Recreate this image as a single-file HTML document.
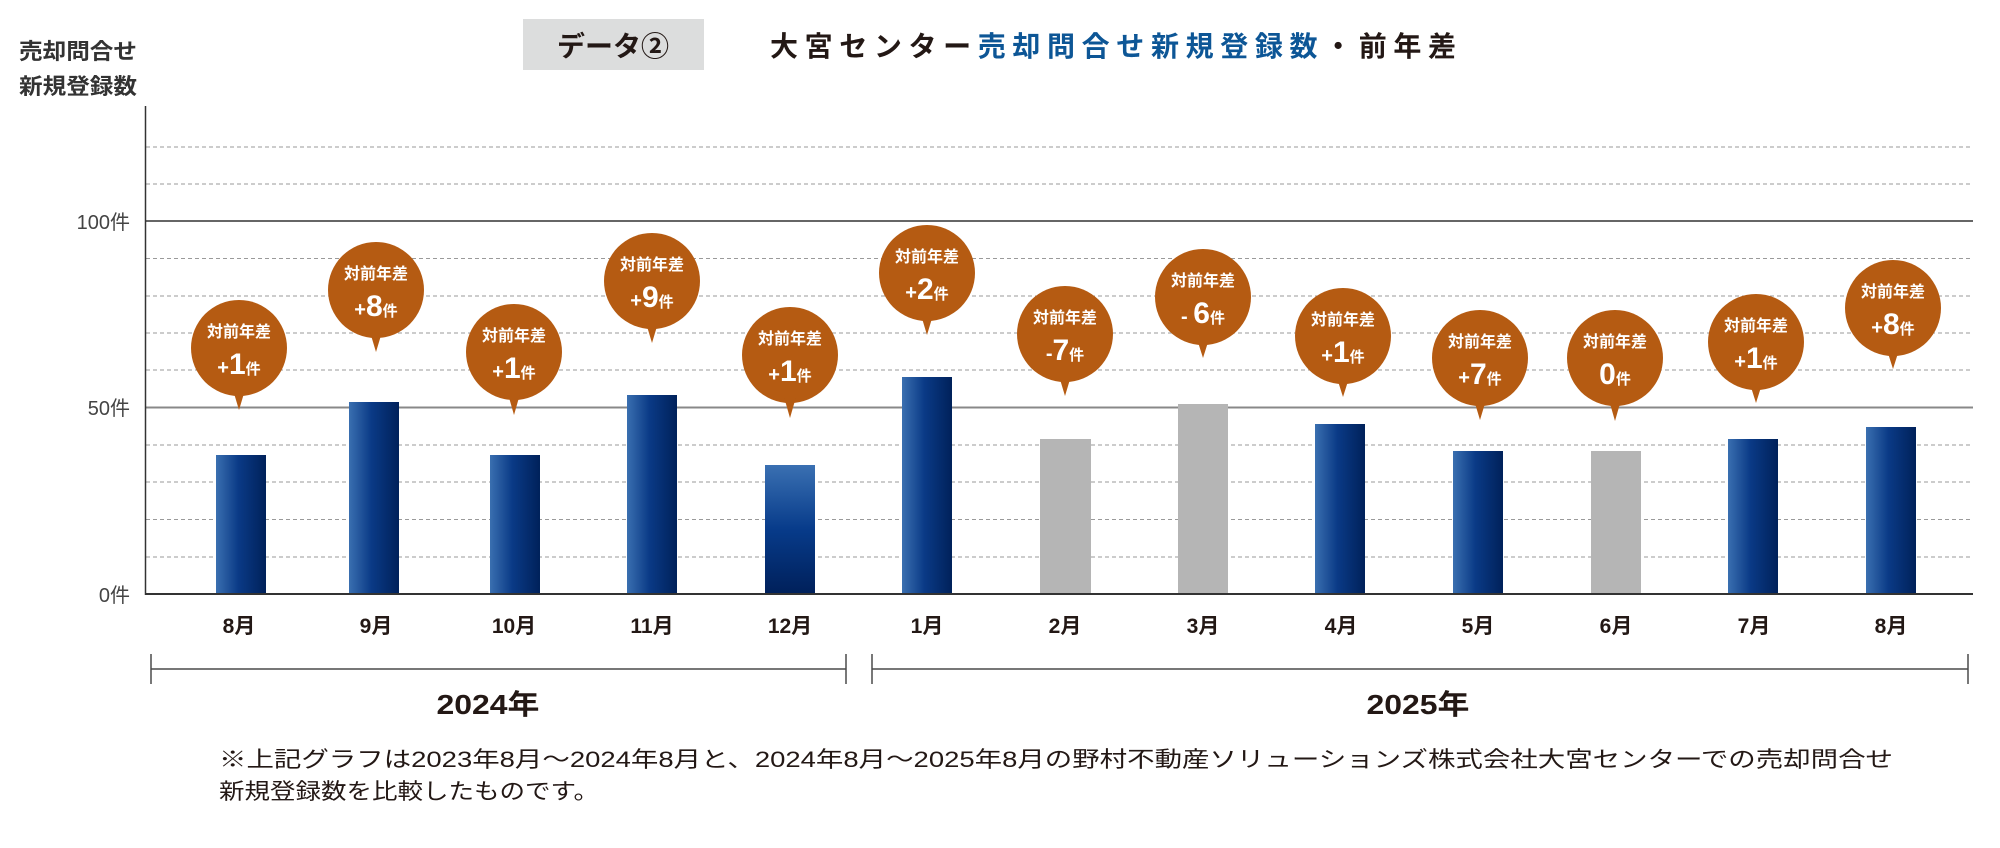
<!DOCTYPE html>
<html><head><meta charset="utf-8"><style>
html,body{margin:0;padding:0;background:#fff;}
svg{display:block;}
text{font-family:"Liberation Sans","Noto Sans CJK JP",sans-serif;}
</style></head><body>
<svg width="2000" height="848" viewBox="0 0 2000 848" xmlns="http://www.w3.org/2000/svg">
<defs>
<linearGradient id="gb" x1="0" y1="0" x2="1" y2="0">
<stop offset="0" stop-color="#3a6fb0"/><stop offset="0.45" stop-color="#0a3a86"/><stop offset="1" stop-color="#00215a"/>
</linearGradient>
<linearGradient id="gv" x1="0" y1="0" x2="0" y2="1">
<stop offset="0" stop-color="#3a70b2"/><stop offset="0.5" stop-color="#073b8a"/><stop offset="1" stop-color="#00205a"/>
</linearGradient>
</defs>
<rect x="523" y="19" width="181" height="51" fill="#dcdddd"/>
<text x="613" y="56" font-size="28" font-weight="bold" fill="#231815" text-anchor="middle">データ②</text>
<text x="770" y="56" font-size="28" font-weight="bold" fill="#231815" textLength="686" lengthAdjust="spacing">大宮センター<tspan fill="#0d5696">売却問合せ新規登録数</tspan>・前年差</text>
<text x="19" y="59" font-size="22" font-weight="bold" fill="#333" textLength="118" lengthAdjust="spacingAndGlyphs">売却問合せ</text>
<text x="19" y="94" font-size="22" font-weight="bold" fill="#333" textLength="118" lengthAdjust="spacingAndGlyphs">新規登録数</text>
<g stroke="#9a9a9a" stroke-width="1" stroke-dasharray="4,3">
<line x1="146" y1="147" x2="1973" y2="147"/>
<line x1="146" y1="184" x2="1973" y2="184"/>
<line x1="146" y1="258.5" x2="1973" y2="258.5"/>
<line x1="146" y1="296" x2="1973" y2="296"/>
<line x1="146" y1="333" x2="1973" y2="333"/>
<line x1="146" y1="370" x2="1973" y2="370"/>
<line x1="146" y1="445" x2="1973" y2="445"/>
<line x1="146" y1="482" x2="1973" y2="482"/>
<line x1="146" y1="519.5" x2="1973" y2="519.5"/>
<line x1="146" y1="557" x2="1973" y2="557"/>
</g>
<line x1="146" y1="221" x2="1973" y2="221" stroke="#333" stroke-width="1.5"/>
<line x1="146" y1="407.5" x2="1973" y2="407.5" stroke="#888" stroke-width="2"/>
<rect x="216" y="455" width="50" height="139" fill="url(#gb)"/>
<rect x="349" y="402" width="50" height="192" fill="url(#gb)"/>
<rect x="490" y="455" width="50" height="139" fill="url(#gb)"/>
<rect x="627" y="395" width="50" height="199" fill="url(#gb)"/>
<rect x="765" y="465" width="50" height="129" fill="url(#gv)"/>
<rect x="902" y="377" width="50" height="217" fill="url(#gb)"/>
<rect x="1040" y="439" width="51" height="155" fill="#b5b5b5"/>
<rect x="1178" y="404" width="50" height="190" fill="#b5b5b5"/>
<rect x="1315" y="424" width="50" height="170" fill="url(#gb)"/>
<rect x="1453" y="451" width="50" height="143" fill="url(#gb)"/>
<rect x="1591" y="451" width="50" height="143" fill="#b5b5b5"/>
<rect x="1728" y="439" width="50" height="155" fill="url(#gb)"/>
<rect x="1866" y="427" width="50" height="167" fill="url(#gb)"/>
<line x1="145.5" y1="106" x2="145.5" y2="595" stroke="#333" stroke-width="1.5"/>
<line x1="145" y1="594" x2="1973" y2="594" stroke="#333" stroke-width="2"/>
<g font-size="20" fill="#444" text-anchor="end">
<text x="130" y="229">100件</text>
<text x="130" y="415">50件</text>
<text x="130" y="602">0件</text>
</g>
<g font-size="21" font-weight="bold" fill="#231815" text-anchor="middle">
<text x="239" y="633">8月</text><text x="376" y="633">9月</text><text x="514" y="633">10月</text>
<text x="652" y="633">11月</text><text x="790" y="633">12月</text><text x="927" y="633">1月</text>
<text x="1065" y="633">2月</text><text x="1203" y="633">3月</text><text x="1341" y="633">4月</text>
<text x="1478" y="633">5月</text><text x="1616" y="633">6月</text><text x="1754" y="633">7月</text>
<text x="1891" y="633">8月</text>
</g>
<g fill="#b55b12">
<circle cx="239" cy="348" r="48"/><path d="M233 390 L239 410 L245 390Z"/>
<circle cx="376" cy="290" r="48"/><path d="M370 332 L376 352 L382 332Z"/>
<circle cx="514" cy="352" r="48"/><path d="M508 394 L514 415 L520 394Z"/>
<circle cx="652" cy="281" r="48"/><path d="M646 323 L652 343 L658 323Z"/>
<circle cx="790" cy="355" r="48"/><path d="M784 397 L790 418 L796 397Z"/>
<circle cx="927" cy="273" r="48"/><path d="M921 315 L927 335 L933 315Z"/>
<circle cx="1065" cy="334" r="48"/><path d="M1059 376 L1065 396 L1071 376Z"/>
<circle cx="1203" cy="297" r="48"/><path d="M1197 339 L1203 358 L1209 339Z"/>
<circle cx="1343" cy="336" r="48"/><path d="M1337 378 L1343 397 L1349 378Z"/>
<circle cx="1480" cy="358" r="48"/><path d="M1474 400 L1480 420 L1486 400Z"/>
<circle cx="1615" cy="358" r="48"/><path d="M1609 400 L1615 421 L1621 400Z"/>
<circle cx="1756" cy="342" r="48"/><path d="M1750 384 L1756 403 L1762 384Z"/>
<circle cx="1893" cy="308" r="48"/><path d="M1887 350 L1893 369 L1899 350Z"/>
</g>
<g fill="#fff" font-weight="bold" text-anchor="middle">
<g font-size="16">
<text x="239" y="337">対前年差</text><text x="376" y="279">対前年差</text><text x="514" y="341">対前年差</text>
<text x="652" y="270">対前年差</text><text x="790" y="344">対前年差</text><text x="927" y="262">対前年差</text>
<text x="1065" y="323">対前年差</text><text x="1203" y="286">対前年差</text><text x="1343" y="325">対前年差</text>
<text x="1480" y="347">対前年差</text><text x="1615" y="347">対前年差</text><text x="1756" y="331">対前年差</text>
<text x="1893" y="297">対前年差</text>
</g>
<g font-size="30">
<text x="239" y="374"><tspan font-size="20">+</tspan>1<tspan font-size="15">件</tspan></text>
<text x="376" y="316"><tspan font-size="20">+</tspan>8<tspan font-size="15">件</tspan></text>
<text x="514" y="378"><tspan font-size="20">+</tspan>1<tspan font-size="15">件</tspan></text>
<text x="652" y="307"><tspan font-size="20">+</tspan>9<tspan font-size="15">件</tspan></text>
<text x="790" y="381"><tspan font-size="20">+</tspan>1<tspan font-size="15">件</tspan></text>
<text x="927" y="299"><tspan font-size="20">+</tspan>2<tspan font-size="15">件</tspan></text>
<text x="1065" y="360"><tspan font-size="20">-</tspan>7<tspan font-size="15">件</tspan></text>
<text x="1203" y="323"><tspan font-size="20">- </tspan>6<tspan font-size="15">件</tspan></text>
<text x="1343" y="362"><tspan font-size="20">+</tspan>1<tspan font-size="15">件</tspan></text>
<text x="1480" y="384"><tspan font-size="20">+</tspan>7<tspan font-size="15">件</tspan></text>
<text x="1615" y="384">0<tspan font-size="15">件</tspan></text>
<text x="1756" y="368"><tspan font-size="20">+</tspan>1<tspan font-size="15">件</tspan></text>
<text x="1893" y="334"><tspan font-size="20">+</tspan>8<tspan font-size="15">件</tspan></text>
</g>
</g>
<g stroke="#4a4a4a" stroke-width="1.5">
<line x1="151" y1="669" x2="846" y2="669"/><line x1="151" y1="654" x2="151" y2="684"/><line x1="846" y1="654" x2="846" y2="684"/>
<line x1="872" y1="669" x2="1968" y2="669"/><line x1="872" y1="654" x2="872" y2="684"/><line x1="1968" y1="654" x2="1968" y2="684"/>
</g>
<text x="488" y="714" font-size="28" font-weight="bold" fill="#231815" text-anchor="middle" textLength="103" lengthAdjust="spacingAndGlyphs">2024年</text>
<text x="1418" y="714" font-size="28" font-weight="bold" fill="#231815" text-anchor="middle" textLength="103" lengthAdjust="spacingAndGlyphs">2025年</text>
<text x="219" y="767" font-size="22" fill="#231815" textLength="1674" lengthAdjust="spacingAndGlyphs">※上記グラフは2023年8月～2024年8月と、2024年8月～2025年8月の野村不動産ソリューションズ株式会社大宮センターでの売却問合せ</text>
<text x="219" y="799" font-size="22" fill="#231815" textLength="380" lengthAdjust="spacingAndGlyphs">新規登録数を比較したものです。</text>
</svg>
</body></html>
